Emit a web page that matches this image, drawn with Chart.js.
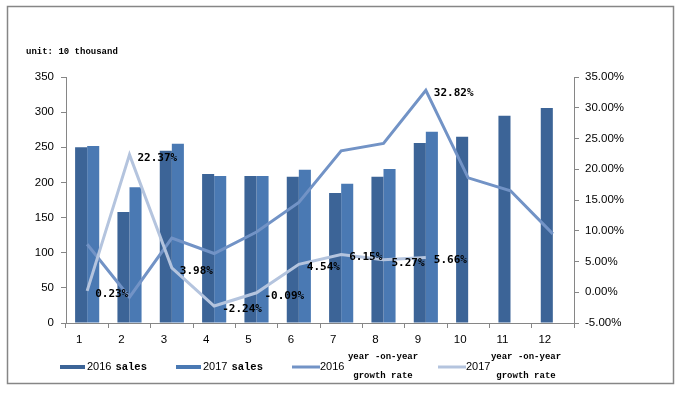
<!DOCTYPE html>
<html>
<head>
<meta charset="utf-8">
<script src="https://cdn.jsdelivr.net/npm/chart.js@4/dist/chart.umd.min.js"></script>
<style>
  body { margin: 0; background: #fff; }
</style>
</head>
<body>
<canvas id="salesChart" width="679" height="395"></canvas>
<script>
const months = ["1", "2", "3", "4", "5", "6", "7", "8", "9", "10", "11", "12"];
const sales2016 = [250, 158, 245, 212, 209, 208, 185, 208, 256, 265, 295, 306];
const sales2017 = [252, 193, 255, 209, 209, 218, 198, 219, 272, null, null, null];
const growth2016 = [7.8, -0.8, 8.8, 6.3, 9.8, 14.6, 23.0, 24.2, 32.82, 18.6, 16.5, 9.5];
const growth2017 = [0.23, 22.37, 3.98, -2.24, -0.09, 4.54, 6.15, 5.27, 5.66, null, null, null];
// only these points carry a value label
const growth2016Labels = [null, null, null, null, null, null, null, null, 32.82, null, null, null];

const axisGray = "#868686";
const tickFont = { family: "Liberation Sans", size: 11.5 };

// frame round the whole picture + the unit note
const framePlugin = {
  id: "frame",
  beforeDraw(chart) {
    const ctx = chart.ctx;
    ctx.save();
    ctx.fillStyle = "#fff";
    ctx.fillRect(0, 0, chart.width, chart.height);
    ctx.strokeStyle = axisGray;
    ctx.lineWidth = 1.5;
    ctx.strokeRect(7.5, 6.5, 666, 377);
    ctx.fillStyle = "#000";
    ctx.font = "bold 9px 'Liberation Mono'";
    ctx.textBaseline = "middle";
    ctx.fillText("unit: 10 thousand", 26, 52);
    ctx.restore();
  }
};

// value labels to the right of the growth points
const valueLabels = {
  id: "valueLabels",
  afterDatasetsDraw(chart) {
    const ctx = chart.ctx;
    ctx.save();
    ctx.font = "bold 11px 'DejaVu Sans Mono'";
    ctx.fillStyle = "#000";
    ctx.textBaseline = "middle";
    chart.data.datasets.forEach((ds, i) => {
      if (!ds.valueLabels) return;
      const meta = chart.getDatasetMeta(i);
      ds.valueLabels.forEach((v, j) => {
        if (v === null) return;
        const pt = meta.data[j];
        ctx.fillText(v.toFixed(2) + "%", pt.x + 8, pt.y + 3);
      });
    });
    ctx.restore();
  }
};

// excel style legend along the bottom
const bottomLegend = {
  id: "bottomLegend",
  afterDraw(chart) {
    const ctx = chart.ctx;
    const ds = chart.data.datasets;
    const y = 367;
    ctx.save();
    ctx.textBaseline = "middle";
    ctx.fillStyle = "#000";

    function barItem(d, x) {
      ctx.fillStyle = d.backgroundColor;
      ctx.fillRect(x, y - 2, 25, 4);
      ctx.fillStyle = "#000";
      const parts = d.label.split(" ");
      ctx.font = "11px 'Liberation Sans'";
      ctx.fillText(parts[0], x + 27, y);
      const w = ctx.measureText(parts[0]).width;
      ctx.font = "bold 10.5px 'Liberation Mono'";
      ctx.fillText(parts.slice(1).join(" "), x + 31 + w, y);
    }
    function lineItem(d, x, cx) {
      ctx.strokeStyle = d.borderColor;
      ctx.lineWidth = 3;
      ctx.beginPath();
      ctx.moveTo(x, y);
      ctx.lineTo(x + 28, y);
      ctx.stroke();
      const parts = d.label.split(" ");
      ctx.fillStyle = "#000";
      ctx.font = "11px 'Liberation Sans'";
      ctx.textAlign = "left";
      ctx.fillText(parts[0], x + 28, y);
      ctx.font = "bold 9px 'Liberation Mono'";
      ctx.textAlign = "center";
      ctx.fillText(parts.slice(1, 3).join(" "), cx, y - 10);
      ctx.fillText(parts.slice(3).join(" "), cx, y + 9);
      ctx.textAlign = "left";
    }
    barItem(ds[0], 60);
    barItem(ds[1], 176);
    lineItem(ds[2], 292, 383);
    lineItem(ds[3], 438, 526);
    ctx.restore();
  }
};

new Chart("salesChart", {
  data: {
    labels: months,
    datasets: [
      {
        type: "bar",
        label: "2016 sales",
        data: sales2016,
        backgroundColor: "#3c6497",
        yAxisID: "y",
        order: 2,
        barPercentage: 1,
        categoryPercentage: 0.57
      },
      {
        type: "bar",
        label: "2017 sales",
        data: sales2017,
        backgroundColor: "#4a79b3",
        yAxisID: "y",
        order: 2,
        barPercentage: 1,
        categoryPercentage: 0.57
      },
      {
        type: "line",
        label: "2016 year -on-year growth rate",
        data: growth2016,
        borderColor: "#7293c6",
        borderWidth: 3,
        pointRadius: 0,
        tension: 0,
        yAxisID: "y1",
        order: 1,
        valueLabels: growth2016Labels
      },
      {
        type: "line",
        label: "2017 year -on-year growth rate",
        data: growth2017,
        borderColor: "#b4c4de",
        borderWidth: 3,
        pointRadius: 0,
        tension: 0,
        yAxisID: "y1",
        order: 0,
        valueLabels: growth2017
      }
    ]
  },
  options: {
    responsive: false,
    animation: false,
    layout: { padding: { top: 77, left: 0, right: 0, bottom: 0 } },
    plugins: {
      legend: { display: false },
      tooltip: { enabled: false }
    },
    scales: {
      x: {
        offset: true,
        grid: { drawOnChartArea: false, tickLength: 5, color: axisGray, offset: true },
        border: { color: axisGray },
        ticks: { font: tickFont, color: "#000", padding: 5, labelOffset: -8, maxRotation: 0, autoSkip: false },
        afterFit(s) { s.height = 72; }
      },
      y: {
        position: "left",
        min: 0,
        max: 350,
        grid: { drawOnChartArea: false, tickLength: 5, color: axisGray },
        border: { color: axisGray },
        ticks: { stepSize: 50, font: tickFont, color: "#000", padding: 7 },
        afterFit(s) { s.width = 66; }
      },
      y1: {
        position: "right",
        min: -5,
        max: 35,
        grid: { drawOnChartArea: false, tickLength: 5, color: axisGray },
        border: { color: axisGray },
        ticks: {
          stepSize: 5,
          font: tickFont,
          color: "#000",
          padding: 6,
          callback: v => v.toFixed(2) + "%"
        },
        afterFit(s) { s.width = 105; }
      }
    }
  },
  plugins: [framePlugin, valueLabels, bottomLegend]
});
</script>
</body>
</html>
